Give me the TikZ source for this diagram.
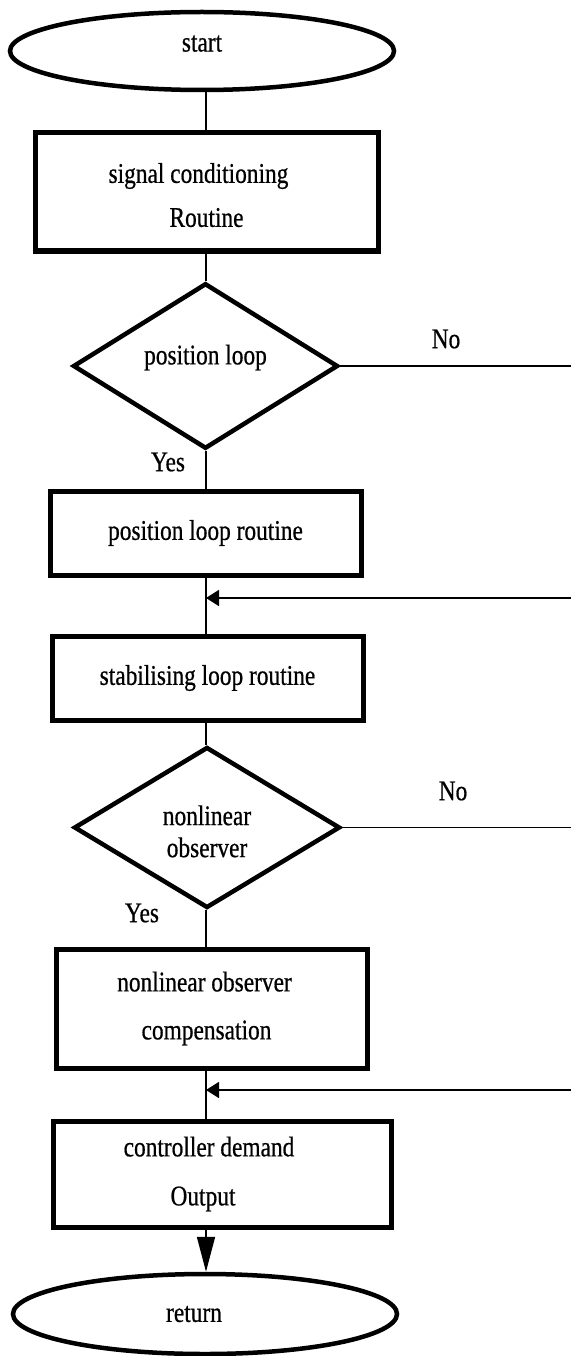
\documentclass[tikz,border=0pt]{standalone}
\usepackage{fontspec}
\setmainfont{Liberation Serif}[FakeStretch=0.82,FakeBold=0.6]
\usetikzlibrary{shapes.geometric,arrows.meta}

\begin{document}
\begin{tikzpicture}[x=1pt,y=-1pt,
  every node/.style={font=\fontsize{28.5}{32}\selectfont},
  terminal/.style={ellipse, draw, line width=4.5pt, inner sep=0pt, minimum width=384pt},
  procbox/.style={rectangle, draw, line width=5pt, align=center, inner sep=0pt, minimum width=311pt},
  decision/.style={diamond, draw, line width=4.5pt, align=center, inner sep=0pt,
                   minimum width=265pt, minimum height=162pt},
  flow/.style={line width=1.8pt},
  joinarrow/.style={flow, -{Triangle[length=13pt,width=16pt]}},
  endarrow/.style={flow, -{Triangle[length=35pt,width=18pt]}},
  tag/.style={inner sep=0pt}
]
\useasboundingbox (0,0) rectangle (571,1356);

% vertical spine and right-hand edge used for the branch lines
\coordinate (spine) at (206,0);
\coordinate (edge) at (571,0);

% flow elements
\node[terminal, minimum height=78pt] (start) at (202,51) {start\rule[-15pt]{0pt}{0pt}};
\node[procbox, minimum width=343pt, minimum height=118pt] (cond) at (206.5,192)
  {\rule{0pt}{26pt}signal conditioning\hspace*{16pt}\\[12pt]Routine};
\node[decision] (posq) at (205.5,366) {position loop\rule[-23pt]{0pt}{0pt}};
\node[procbox, minimum height=84pt] (posr) at (205.5,533) {position loop routine};
\node[procbox, minimum height=84pt] (stab) at (207.5,678) {stabilising loop routine};
\node[decision, minimum width=266pt, minimum height=161pt] (obsq) at (207,827.5)
  {\rule{0pt}{27.5pt}nonlinear\\[0pt]observer};
\node[procbox, minimum height=119pt] (obsc) at (211.5,1008.5)
  {nonlinear observer\hspace*{14pt}\\[16pt]compensation\hspace*{10pt}};
\node[procbox, minimum width=338pt, minimum height=106pt] (demand) at (222,1174)
  {controller demand\hspace*{26pt}\\[17pt]Output\hspace*{38pt}};
\node[terminal, minimum height=80pt] (ret) at (205,1314) {return\hspace*{22pt}\\[-6pt]};

% junctions where the bypass lines rejoin the main flow
\coordinate (joinA) at (206,598);
\coordinate (joinB) at (206,1090);

% main vertical flow
\draw[flow] (start.south -| spine) -- (cond.north -| spine);
\draw[flow] (cond.south -| spine) -- (posq.north -| spine);
\draw[flow] (posq.south -| spine) -- (posr.north -| spine);
\draw[flow] (posr.south -| spine) -- (stab.north -| spine);
\draw[flow] (stab.south -| spine) -- (obsq.north -| spine);
\draw[flow] (obsq.south -| spine) -- (obsc.north -| spine);
\draw[flow] (obsc.south -| spine) -- (demand.north -| spine);
\draw[endarrow] (demand.south -| spine) -- (ret.north -| spine);

% "No" branches leaving to the right and returning arrows
\draw[flow] (posq.east) -- (posq.east -| edge);
\draw[flow] (obsq.east) -- (obsq.east -| edge);
\draw[joinarrow] (edge |- joinA) -- (joinA);
\draw[joinarrow] (edge |- joinB) -- (joinB);

% branch labels
\node[tag] (noA) at (446,339) {No};
\node[tag] (noB) at (453,791) {No};
\node[tag] (yesA) at (168,462) {Yes};
\node[tag] (yesB) at (142,913) {Yes};
\end{tikzpicture}
\end{document}
